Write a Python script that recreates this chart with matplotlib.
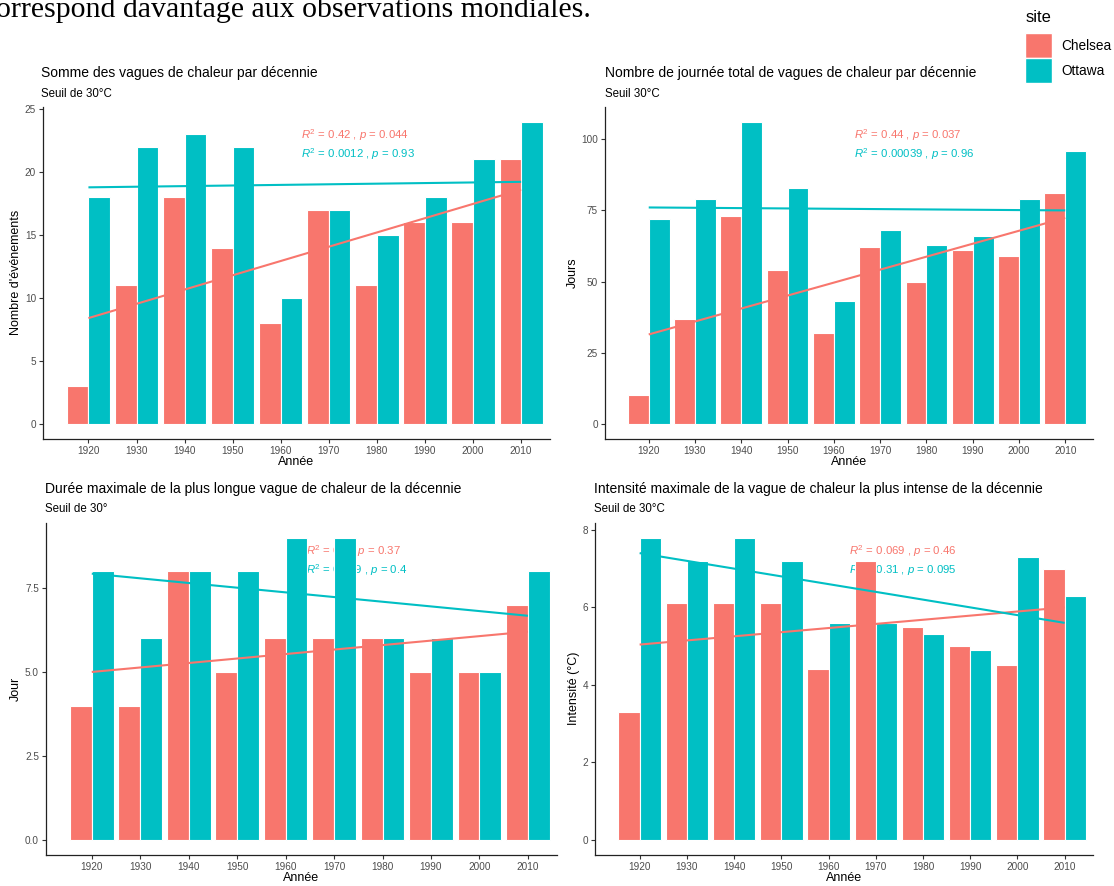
import matplotlib
matplotlib.use("Agg")
import matplotlib.pyplot as plt
import matplotlib.transforms as mtransforms
from matplotlib.patches import Patch
import numpy as np

plt.rcParams['font.family'] = ['Liberation Sans', 'DejaVu Sans']
plt.rcParams['mathtext.fontset'] = 'custom'
plt.rcParams['mathtext.rm'] = 'Liberation Sans'
plt.rcParams['mathtext.it'] = 'Liberation Sans:italic'

decades = np.array([1920, 1930, 1940, 1950, 1960, 1970, 1980, 1990, 2000, 2010])

# somme des vagues
nb_chelsea = [3, 11, 18, 14, 8, 17, 11, 16, 16, 21]
nb_ottawa = [18, 22, 23, 22, 10, 17, 15, 18, 21, 24]
# nombre de jours
jours_chelsea = [10, 37, 73, 54, 32, 62, 50, 61, 59, 81]
jours_ottawa = [72, 79, 106, 83, 43, 68, 63, 66, 79, 96]
# duree max
duree_chelsea = [4, 4, 8, 5, 6, 6, 6, 5, 5, 7]
duree_ottawa = [8, 6, 8, 8, 9, 9, 6, 6, 5, 8]
# intensite max
int_chelsea = [3.3, 6.1, 6.1, 6.1, 4.4, 7.2, 5.5, 5.0, 4.5, 7.0]
int_ottawa = [7.8, 7.2, 7.8, 7.2, 5.6, 5.6, 5.3, 4.9, 7.3, 6.3]

stats = [
    ("0.42 , ", "0.044", "0.0012 , ", "0.93"),
    ("0.44 , ", "0.037", "0.00039 , ", "0.96"),
    ("0.1 , ", "0.37", "0.089 , ", "0.4"),
    ("0.069 , ", "0.46", "0.31 , ", "0.095"),
]

titles = ["Somme des vagues de chaleur par décennie",
          "Nombre de journée total de vagues de chaleur par décennie",
          "Durée maximale de la plus longue vague de chaleur de la décennie",
          "Intensité maximale de la vague de chaleur la plus intense de la décennie"]
subtitles = ["Seuil de 30°C", "Seuil 30°C", "Seuil de 30°", "Seuil de 30°C"]
ylabels = ["Nombre d'événements", "Jours", "Jour", "Intensité (°C)"]
yticks = [[0, 5, 10, 15, 20, 25], [0, 25, 50, 75, 100],
          [0, 2.5, 5, 7.5], [0, 2, 4, 6, 8]]
yticklabels = [None, None, ["0.0", "2.5", "5.0", "7.5"], None]

RED = "#F8766D"
TEAL = "#00BFC4"

W, H = 1114, 886
fig = plt.figure(figsize=(W / 100, H / 100), dpi=100)

# pixel boxes: left, top, right, bottom
boxes = [(43, 106.5, 550, 439), (605, 107, 1093, 439),
         (46, 522.5, 557, 855), (595, 522.5, 1093, 855)]
title_pos = [(41, 73, 94), (605, 73, 94), (45, 489, 509), (594, 489, 509)]

series = [(nb_chelsea, nb_ottawa), (jours_chelsea, jours_ottawa),
          (duree_chelsea, duree_ottawa), (int_chelsea, int_ottawa)]

for i, (l, t, r, b) in enumerate(boxes):
    ax = fig.add_axes([l / W, 1 - b / H, (r - l) / W, (b - t) / H])
    ch, ot = series[i]
    ch = np.array(ch, dtype=float)
    ot = np.array(ot, dtype=float)

    ax.bar(decades - 2.25, ch, width=4.5, color=RED, edgecolor='white',
           linewidth=0.8, zorder=2)
    ax.bar(decades + 2.25, ot, width=4.5, color=TEAL, edgecolor='white',
           linewidth=0.8, zorder=2)

    # droite de regression lineaire par site
    for vals, col in ((ch, RED), (ot, TEAL)):
        slope, inter = np.polyfit(decades, vals, 1)
        xs = np.array([decades[0], decades[-1]])
        ax.plot(xs, inter + slope * xs, color=col, lw=1.5, zorder=3,
                solid_capstyle='butt')

    top = max(ch.max(), ot.max())
    ax.set_ylim(-0.05 * top, top * 1.05)
    ax.set_xlim(1910.55, 2016.0)
    ax.set_xticks(decades)
    ax.set_yticks(yticks[i])
    if yticklabels[i]:
        ax.set_yticklabels(yticklabels[i])

    trans = mtransforms.blended_transform_factory(ax.transData, ax.transAxes)
    r1, p1, r2, p2 = stats[i]
    ax.text(1964.3, 0.915, r"$R^2$ = " + r1 + r"$p$ = " + p1, color=RED,
            fontsize=8.2, transform=trans, va='center', ha='left', zorder=1)
    ax.text(1964.3, 0.857, r"$R^2$ = " + r2 + r"$p$ = " + p2, color=TEAL,
            fontsize=8.2, transform=trans, va='center', ha='left', zorder=1)

    for side in ('top', 'right'):
        ax.spines[side].set_visible(False)
    for side in ('left', 'bottom'):
        ax.spines[side].set_color('#222222')
        ax.spines[side].set_linewidth(0.9)
    ax.tick_params(length=3, width=0.8, color='#333333', labelsize=7.2,
                   labelcolor='#4D4D4D', pad=2)
    ax.set_xlabel("Année", fontsize=9, labelpad=0)
    ax.set_ylabel(ylabels[i], fontsize=9, labelpad=2)

    tx, ty, sy = title_pos[i]
    fig.text(tx / W, 1 - ty / H, titles[i], fontsize=10, va='center', ha='left')
    fig.text(tx / W, 1 - sy / H, subtitles[i], fontsize=8.3, va='center', ha='left')

# bout de texte du document au-dessus
fig.text(-0.004, 1 - 10 / H, "orrespond davantage aux observations mondiales.",
         fontsize=21.5, family='Liberation Serif', va='center', ha='left')

# legende commune
fig.text(1026 / W, 1 - 17 / H, "site", fontsize=11.9, va='center', ha='left')
handles = [Patch(facecolor=RED, edgecolor='white', label='Chelsea'),
           Patch(facecolor=TEAL, edgecolor='white', label='Ottawa')]
leg = fig.legend(handles=handles, loc='upper left',
                 bbox_to_anchor=(1025 / W, 1 - 33 / H), frameon=False,
                 fontsize=9.8, handlelength=1.95,
                 handleheight=2.45, labelspacing=0.0, handletextpad=0.7,
                 borderpad=0, borderaxespad=0)

fig.savefig("out.png", dpi=100)
